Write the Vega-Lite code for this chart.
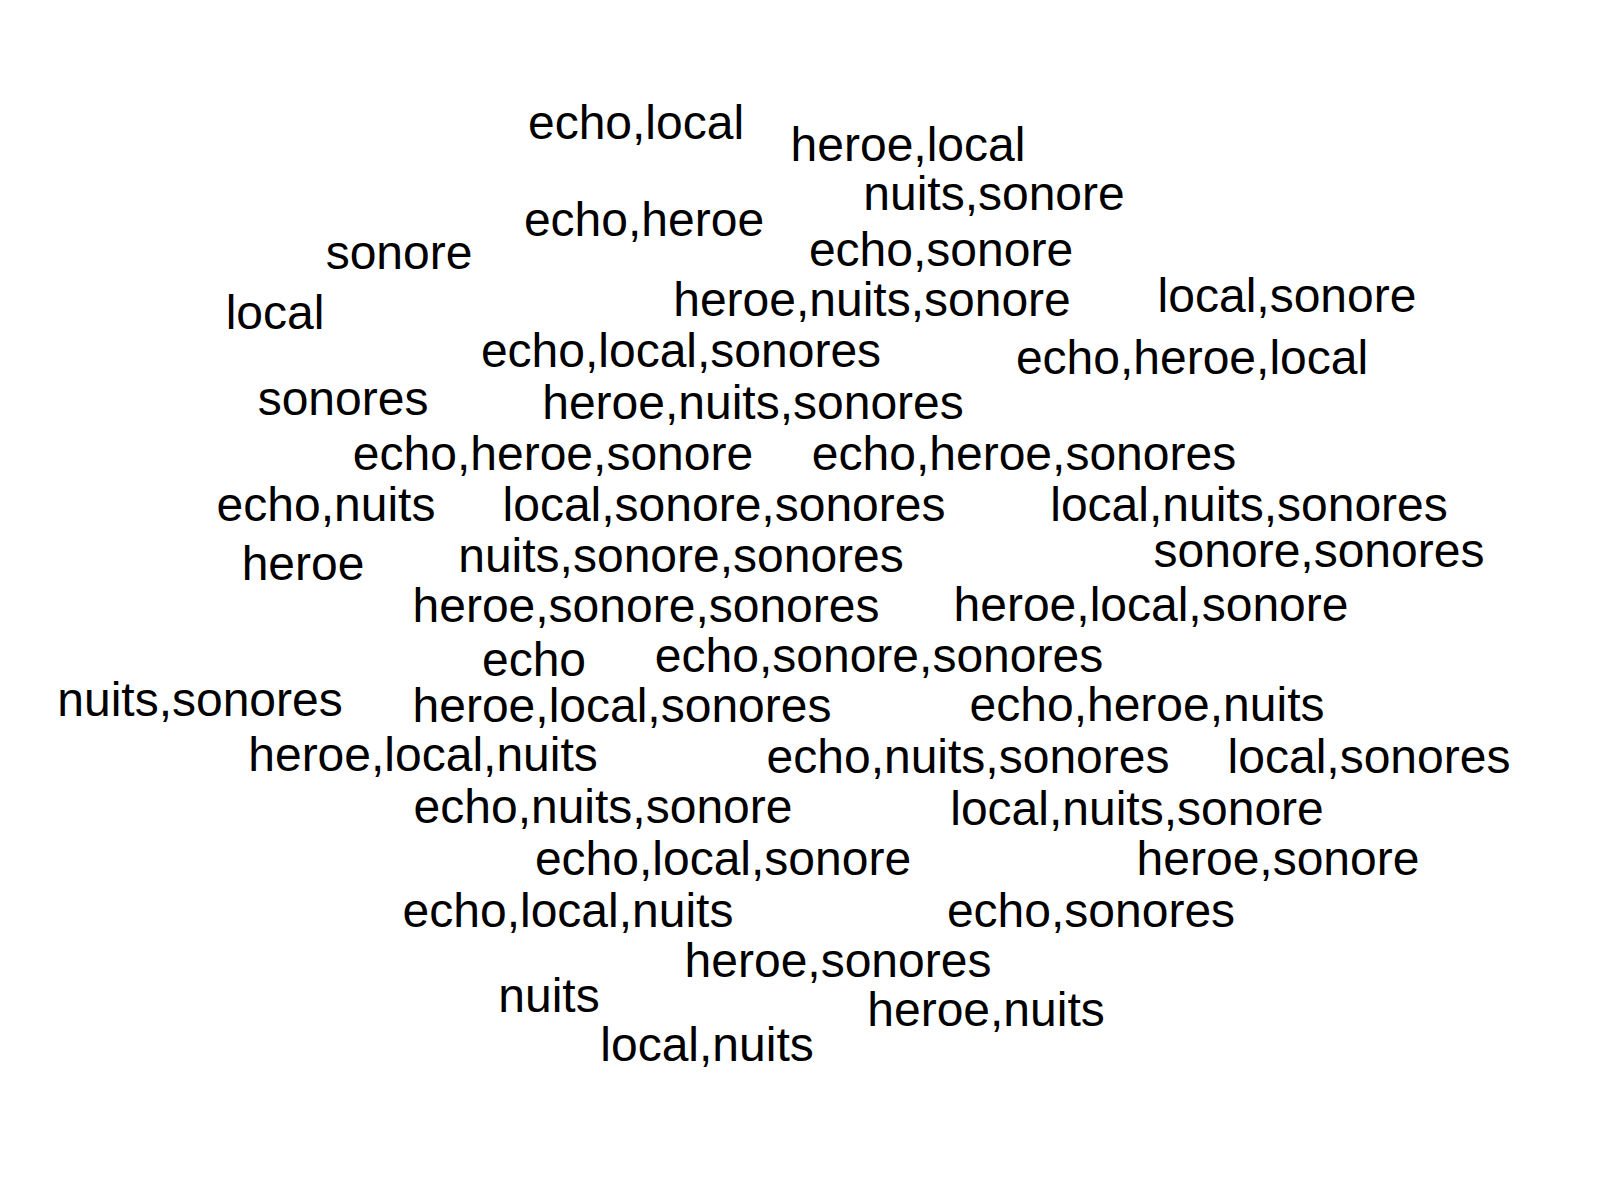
{
  "$schema": "https://vega.github.io/schema/vega-lite/v6.json",
  "width": 1600,
  "height": 1200,
  "autosize": {"type": "none"},
  "padding": 0,
  "background": "white",
  "view": {"stroke": null},
  "data": {
    "values": [
      {"word": "echo,local", "x": 636, "y": 125},
      {"word": "heroe,local", "x": 908, "y": 147},
      {"word": "nuits,sonore", "x": 994, "y": 196},
      {"word": "echo,heroe", "x": 644, "y": 222},
      {"word": "sonore", "x": 399, "y": 255},
      {"word": "echo,sonore", "x": 941, "y": 252},
      {"word": "heroe,nuits,sonore", "x": 872, "y": 302},
      {"word": "local,sonore", "x": 1287, "y": 298},
      {"word": "local", "x": 275, "y": 315},
      {"word": "echo,local,sonores", "x": 681, "y": 353},
      {"word": "echo,heroe,local", "x": 1192, "y": 360},
      {"word": "sonores", "x": 343, "y": 401},
      {"word": "heroe,nuits,sonores", "x": 753, "y": 405},
      {"word": "echo,heroe,sonore", "x": 553, "y": 456},
      {"word": "echo,heroe,sonores", "x": 1024, "y": 456},
      {"word": "echo,nuits", "x": 326, "y": 507},
      {"word": "local,sonore,sonores", "x": 724, "y": 507},
      {"word": "local,nuits,sonores", "x": 1249, "y": 507},
      {"word": "heroe", "x": 303, "y": 566},
      {"word": "nuits,sonore,sonores", "x": 681, "y": 558},
      {"word": "sonore,sonores", "x": 1319, "y": 553},
      {"word": "heroe,sonore,sonores", "x": 646, "y": 608},
      {"word": "heroe,local,sonore", "x": 1151, "y": 607},
      {"word": "echo", "x": 534, "y": 662},
      {"word": "echo,sonore,sonores", "x": 879, "y": 658},
      {"word": "nuits,sonores", "x": 200, "y": 702},
      {"word": "heroe,local,sonores", "x": 622, "y": 708},
      {"word": "echo,heroe,nuits", "x": 1147, "y": 707},
      {"word": "heroe,local,nuits", "x": 423, "y": 757},
      {"word": "echo,nuits,sonores", "x": 968, "y": 759},
      {"word": "local,sonores", "x": 1369, "y": 759},
      {"word": "echo,nuits,sonore", "x": 603, "y": 809},
      {"word": "local,nuits,sonore", "x": 1137, "y": 811},
      {"word": "echo,local,sonore", "x": 723, "y": 861},
      {"word": "heroe,sonore", "x": 1278, "y": 861},
      {"word": "echo,local,nuits", "x": 568, "y": 913},
      {"word": "echo,sonores", "x": 1091, "y": 913},
      {"word": "heroe,sonores", "x": 838, "y": 963},
      {"word": "nuits", "x": 549, "y": 998},
      {"word": "heroe,nuits", "x": 986, "y": 1012},
      {"word": "local,nuits", "x": 707, "y": 1047}
    ]
  },
  "mark": {"type": "text", "font": "Liberation Sans", "fontSize": 48, "align": "center", "baseline": "middle", "color": "black"},
  "encoding": {
    "x": {"field": "x", "type": "quantitative", "scale": {"domain": [0, 1600]}, "axis": null},
    "y": {"field": "y", "type": "quantitative", "scale": {"domain": [1200, 0]}, "axis": null},
    "text": {"field": "word"}
  }
}
